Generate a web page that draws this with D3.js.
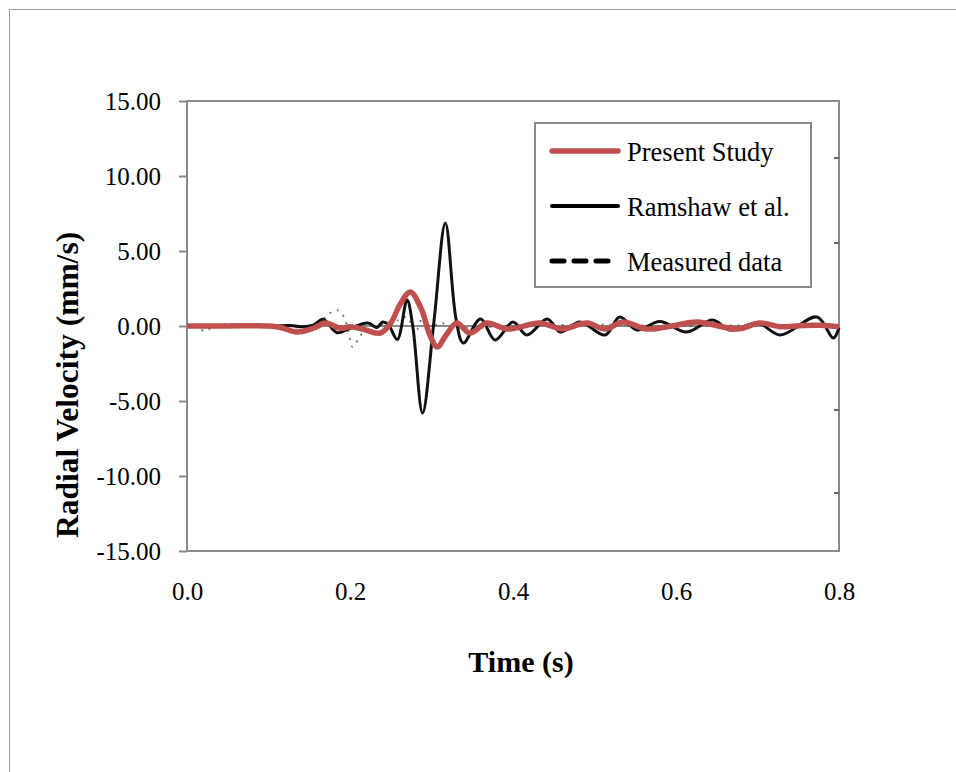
<!DOCTYPE html>
<html><head><meta charset="utf-8">
<script src="https://cdn.jsdelivr.net/npm/d3@7"></script>
<style>body{margin:0;background:#fff}svg{display:block}</style>
</head><body>
<svg id="chart" width="956" height="772"></svg>
<script>
// ---- data ----
const xTicks = [0.0, 0.2, 0.4, 0.6, 0.8];
const yTicks = [15, 10, 5, 0, -5, -10, -15];
const rightTicks = [11.2, 5.53, -5.6, -11.13];
const seriesNames = ["Present Study", "Ramshaw et al.", "Measured data"];

const presentT = [0,0.05,0.1,0.115,0.135,0.155,0.17,0.188,0.2,0.215,0.237,0.25,0.262,0.274,0.287,0.298,0.307,0.318,0.331,0.347,0.368,0.393,0.433,0.46,0.491,0.513,0.535,0.564,0.595,0.626,0.675,0.703,0.728,0.752,0.777,0.8];
const presentV = [0,0,0,-0.1,-0.4,-0.15,0.2,-0.15,-0.05,-0.2,-0.47,0.2,1.5,2.27,1.2,-0.6,-1.4,-0.6,0.2,-0.47,0.2,-0.2,0.2,-0.2,0.2,-0.2,0.27,-0.2,0.0,0.27,-0.2,0.2,-0.05,0.02,0.05,-0.05];

const ramT = [0,0.1,0.13,0.14,0.155,0.167,0.184,0.2,0.222,0.233,0.24,0.247,0.258,0.27,0.277,0.289,0.303,0.317,0.33,0.339,0.36,0.378,0.4,0.417,0.442,0.458,0.482,0.513,0.531,0.552,0.58,0.613,0.645,0.666,0.7,0.728,0.773,0.793,0.8];
const ramV = [0,0,0.02,-0.05,0.05,0.45,-0.45,-0.15,0.2,-0.1,0.27,0.1,-0.9,1.73,0,-5.8,0.3,6.87,0.5,-1.13,0.47,-0.93,0.27,-0.6,0.47,-0.4,0.27,-0.6,0.6,-0.27,0.3,-0.4,0.4,-0.27,0.2,-0.6,0.6,-0.8,-0.1];

const measT = [0,0.01,0.022,0.035,0.1,0.16,0.17,0.178,0.185,0.192,0.198,0.203,0.21,0.22,0.24,0.26,0.27,0.28,0.29,0.3,0.31,0.33,0.4,0.5,0.6,0.7,0.8];
const measV = [0,0.05,-0.35,0.05,0,0,0.6,0.95,1.05,0.65,-0.3,-1.4,-0.9,-0.2,0.1,0.4,0.6,-0.4,0.6,-0.1,0.2,-0.1,0,0.1,0,0.05,0];

// ---- layout ----
const svg = d3.select("#chart");
const L = 187, R = 839, T = 101, B = 551;
const x = d3.scaleLinear().domain([0, 0.8]).range([L, R]);
const y = d3.scaleLinear().domain([-15, 15]).range([B, T]);
const serif = "'Liberation Serif','Times New Roman',serif";
const gray = "#8a8a8a";
const red = "#C0504D";
const hy = f => d => f(d).replace("\u2212", "-");

// outer border
svg.append("rect").attr("x", 9.5).attr("y", 9.5).attr("width", 1000).attr("height", 1000)
  .attr("fill", "none").attr("stroke", "#9a9a9a").attr("stroke-width", 1);

// zero line
svg.append("line").attr("x1", L).attr("x2", R).attr("y1", y(0)).attr("y2", y(0))
  .attr("stroke", gray).attr("stroke-width", 2);

// frame
svg.append("rect").attr("x", L).attr("y", T).attr("width", R - L).attr("height", B - T)
  .attr("fill", "none").attr("stroke", gray).attr("stroke-width", 2);

// y axis
const yAxis = d3.axisLeft(y).tickValues(yTicks).tickSize(8).tickFormat(hy(d3.format(".2f")));
const gy = svg.append("g").attr("transform", `translate(${L},0)`).call(yAxis);
gy.select(".domain").remove();
gy.selectAll(".tick line").attr("stroke", gray).attr("stroke-width", 2);
gy.selectAll(".tick text").attr("x", -26).attr("dy", "0.33em")
  .style("font-family", serif).style("font-size", "25px").attr("fill", "#000");

// x axis
const xAxis = d3.axisBottom(x).tickValues(xTicks).tickSize(0).tickFormat(d3.format(".1f"));
const gx = svg.append("g").attr("transform", `translate(0,${B})`).call(xAxis);
gx.select(".domain").remove();
gx.selectAll(".tick text").attr("y", 49).attr("dy", 0)
  .style("font-family", serif).style("font-size", "25px").attr("fill", "#000");

// right-side stray ticks
svg.append("g").selectAll("line").data(rightTicks).join("line")
  .attr("x1", R - 5).attr("x2", R).attr("y1", d => y(d)).attr("y2", d => y(d))
  .attr("stroke", "#666").attr("stroke-width", 2);

// titles
svg.append("text").attr("x", 521).attr("y", 672).attr("text-anchor", "middle")
  .style("font-family", serif).style("font-size", "30px").style("font-weight", "bold")
  .text("Time (s)");
svg.append("text").attr("transform", "translate(78,385) rotate(-90)").attr("text-anchor", "middle")
  .style("font-family", serif).style("font-size", "31.5px").style("font-weight", "bold")
  .text("Radial Velocity (mm/s)");

// lines
const line = d3.line().x(d => x(d[0])).y(d => y(d[1])).curve(d3.curveCatmullRom.alpha(0.5));
svg.append("clipPath").attr("id", "clip").append("rect")
  .attr("x", L).attr("y", T).attr("width", R - L + 2).attr("height", B - T);
const plot = svg.append("g").attr("clip-path", "url(#clip)");

plot.append("path").datum(d3.zip(measT, measV)).attr("d", line)
  .attr("fill", "none").attr("stroke", "#444").attr("stroke-width", 1.8)
  .attr("stroke-dasharray", "2,6").attr("opacity", 0.75);
plot.append("path").datum(d3.zip(ramT, ramV)).attr("d", line)
  .attr("fill", "none").attr("stroke", "#111").attr("stroke-width", 3);
plot.append("path").datum(d3.zip(presentT, presentV)).attr("d", line)
  .attr("fill", "none").attr("stroke", red).attr("stroke-width", 5.5).attr("stroke-linejoin", "round");

// legend
const lg = svg.append("g");
lg.append("rect").attr("x", 535).attr("y", 123).attr("width", 276).attr("height", 164)
  .attr("fill", "#fff").attr("stroke", gray).attr("stroke-width", 2);
const legStyles = [
  {stroke: red, w: 5.5, dash: null},
  {stroke: "#000", w: 4, dash: null},
  {stroke: "#000", w: 5, dash: "12,10"}
];
const ly0 = 151, ldy = 55;
seriesNames.forEach((n, i) => {
  const s = legStyles[i];
  const yy = ly0 + i * ldy;
  lg.append("line").attr("x1", 552).attr("x2", 618).attr("y1", yy).attr("y2", yy)
    .attr("stroke", s.stroke).attr("stroke-width", s.w).attr("stroke-linecap", "round")
    .attr("stroke-dasharray", s.dash);
  lg.append("text").attr("x", 627).attr("y", yy + 10)
    .style("font-family", serif).style("font-size", "26.5px").text(n);
});
</script>
</body></html>
